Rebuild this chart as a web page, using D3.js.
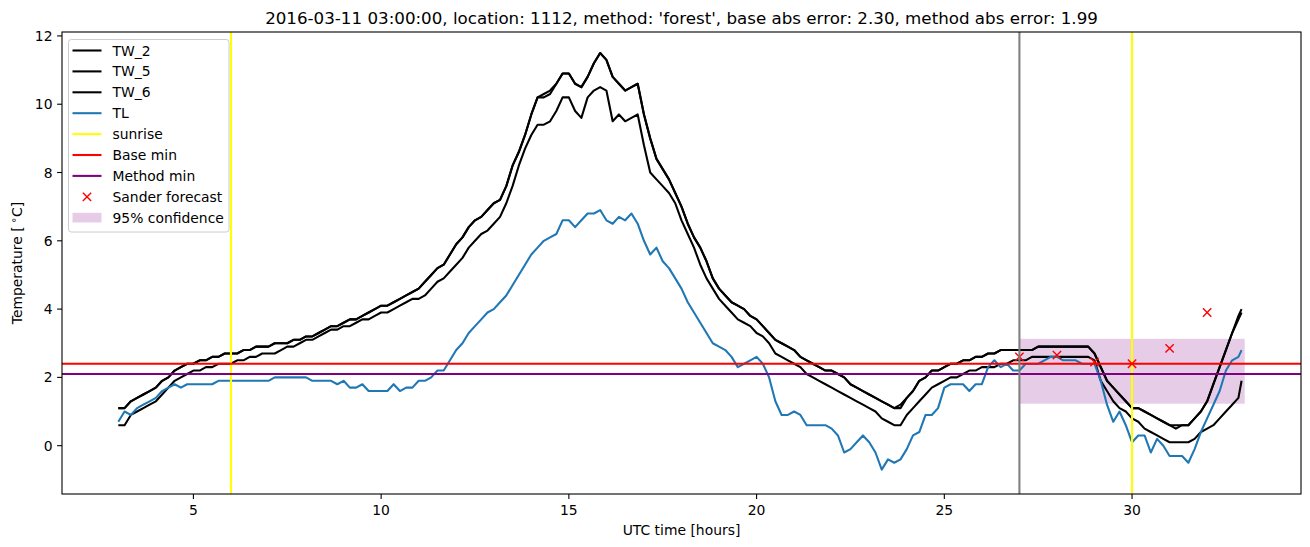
<!DOCTYPE html>
<html><head><meta charset="utf-8">
<script src="https://cdn.jsdelivr.net/npm/d3@7"></script>
<style>body{margin:0;background:#fff} text{font-family:"DejaVu Sans",sans-serif;fill:#000}</style>
</head><body>
<svg id="c" width="1310" height="547"></svg>
<script>
// ---------- data (10-minute samples starting 03:00 UTC, hours since 00:00 of day 1) ----------
const times = d3.range(180).map(i => 3 + i / 6).concat([32.917]);

const TW_2 = [
 1.1,1.1,1.3,1.4,1.5,1.6,  1.7,1.9,2.0,2.2,2.3,2.4,  2.4,2.5,2.5,2.6,2.6,2.7,
 2.7,2.7,2.8,2.8,2.9,2.9,  2.9,3.0,3.0,3.0,3.1,3.1,  3.2,3.2,3.3,3.4,3.5,3.5,
 3.6,3.7,3.7,3.8,3.9,4.0,  4.1,4.1,4.2,4.3,4.4,4.5,  4.6,4.8,5.0,5.2,5.3,5.6,
 5.9,6.1,6.4,6.6,6.7,6.9,  7.1,7.2,7.6,8.2,8.6,9.1,  9.7,10.2,10.3,10.4,10.6,10.9,
 10.9,10.6,10.5,10.8,11.2,11.5,  11.3,10.8,10.6,10.4,10.5,10.6,  9.7,9.0,8.4,8.1,7.8,7.4,
 7.0,6.5,6.1,5.8,5.4,4.9,  4.6,4.4,4.2,4.1,4.0,3.8,  3.7,3.5,3.3,3.1,3.0,2.9,
 2.8,2.6,2.5,2.4,2.3,2.2,  2.2,2.1,2.0,1.8,1.7,1.6,  1.5,1.4,1.3,1.2,1.1,1.2,
 1.4,1.6,1.9,2.0,2.2,2.2,  2.3,2.4,2.4,2.5,2.5,2.6,  2.6,2.7,2.7,2.8,2.8,2.8,
 2.8,2.8,2.8,2.9,2.9,2.9,  2.9,2.9,2.9,2.9,2.9,2.9,  2.7,2.3,1.9,1.7,1.5,1.3,
 1.1,1.1,1.0,0.9,0.8,0.7,  0.6,0.6,0.6,0.6,0.8,1.0,  1.3,1.8,2.3,2.8,3.3,3.8, 4.0];

const TW_5 = [
 1.1,1.1,1.3,1.4,1.5,1.6,  1.7,1.9,2.0,2.2,2.3,2.4,  2.4,2.5,2.5,2.6,2.6,2.7,
 2.7,2.7,2.8,2.8,2.9,2.9,  2.9,3.0,3.0,3.0,3.1,3.1,  3.2,3.2,3.3,3.4,3.5,3.5,
 3.6,3.7,3.7,3.8,3.9,4.0,  4.1,4.1,4.2,4.3,4.4,4.5,  4.6,4.8,5.0,5.2,5.3,5.6,
 5.9,6.1,6.4,6.6,6.7,6.9,  7.1,7.2,7.6,8.2,8.6,9.1,  9.7,10.2,10.2,10.3,10.6,10.9,
 10.9,10.6,10.5,10.8,11.2,11.5,  11.3,10.8,10.6,10.4,10.5,10.6,  9.7,9.0,8.4,8.1,7.8,7.4,
 7.0,6.5,6.1,5.8,5.4,4.9,  4.6,4.4,4.2,4.1,4.0,3.8,  3.7,3.5,3.3,3.1,3.0,2.9,
 2.8,2.6,2.5,2.4,2.3,2.2,  2.2,2.1,2.0,1.8,1.7,1.6,  1.5,1.4,1.3,1.2,1.1,1.1,
 1.4,1.6,1.9,2.0,2.2,2.2,  2.3,2.4,2.4,2.5,2.5,2.6,  2.6,2.7,2.7,2.8,2.8,2.8,
 2.8,2.8,2.8,2.9,2.9,2.9,  2.9,2.9,2.9,2.9,2.9,2.9,  2.7,2.3,1.9,1.7,1.5,1.3,
 1.1,1.1,1.0,0.9,0.8,0.7,  0.6,0.5,0.6,0.6,0.8,1.0,  1.3,1.8,2.3,2.8,3.3,3.7, 3.9];

const TW_6 = [
 0.6,0.6,0.9,1.0,1.1,1.2,  1.3,1.5,1.7,1.9,2.0,2.1,  2.2,2.2,2.3,2.3,2.4,2.4,
 2.4,2.5,2.5,2.6,2.6,2.7,  2.7,2.7,2.8,2.9,2.9,3.0,  3.1,3.1,3.2,3.3,3.4,3.4,
 3.5,3.5,3.6,3.7,3.7,3.8,  3.9,3.9,4.0,4.1,4.2,4.3,  4.3,4.4,4.6,4.8,4.9,5.1,
 5.3,5.5,5.8,6.0,6.2,6.3,  6.5,6.7,7.1,7.6,8.2,8.7,  9.1,9.4,9.4,9.5,9.8,10.2,
 10.2,9.8,9.6,10.2,10.4,10.5,  10.4,9.5,9.7,9.5,9.6,9.7,  8.8,8.0,7.8,7.6,7.4,7.1,
 6.6,6.2,5.8,5.3,4.9,4.6,  4.3,4.1,3.9,3.7,3.6,3.5,  3.3,3.2,3.0,2.7,2.6,2.5,
 2.4,2.3,2.1,2.0,1.9,1.8,  1.7,1.6,1.5,1.4,1.3,1.2,  1.1,1.0,0.8,0.7,0.6,0.6,
 0.9,1.1,1.3,1.5,1.7,1.8,  1.9,2.0,2.0,2.1,2.2,2.2,  2.3,2.3,2.3,2.4,2.4,2.5,
 2.5,2.5,2.6,2.6,2.6,2.6,  2.6,2.6,2.6,2.6,2.6,2.6,  2.5,1.9,1.6,1.3,1.1,1.0,
 0.8,0.7,0.5,0.4,0.3,0.2,  0.1,0.1,0.1,0.1,0.2,0.4,  0.5,0.6,0.8,1.0,1.2,1.4, 1.9];

const TL = [
 0.7,1.0,0.9,1.1,1.2,1.3,  1.4,1.6,1.7,1.8,1.7,1.8,  1.8,1.8,1.8,1.8,1.9,1.9,
 1.9,1.9,1.9,1.9,1.9,1.9,  1.9,2.0,2.0,2.0,2.0,2.0,  2.0,1.9,1.9,1.9,1.9,1.8,
 1.9,1.7,1.7,1.8,1.6,1.6,  1.6,1.6,1.8,1.6,1.7,1.7,  1.9,1.9,2.0,2.2,2.2,2.5,
 2.8,3.0,3.3,3.5,3.7,3.9,  4.0,4.2,4.4,4.7,5.0,5.3,  5.6,5.8,6.0,6.1,6.2,6.6,
 6.6,6.4,6.6,6.8,6.8,6.9,  6.6,6.5,6.7,6.6,6.8,6.5,  6.0,5.6,5.8,5.4,5.2,4.9,
 4.6,4.2,3.9,3.6,3.3,3.0,  2.9,2.8,2.6,2.3,2.4,2.5,  2.6,2.4,2.0,1.3,0.9,0.9,
 1.0,0.9,0.6,0.6,0.6,0.6,  0.5,0.3,-0.2,-0.1,0.1,0.3,  0.1,-0.2,-0.7,-0.4,-0.5,-0.4,
 -0.1,0.3,0.4,0.9,0.9,1.1,  1.7,1.8,1.8,1.8,1.6,1.8,  1.8,2.3,2.5,2.3,2.4,2.2,
 2.2,2.4,2.4,2.4,2.5,2.6,  2.6,2.5,2.5,2.5,2.4,2.4,  2.4,1.9,1.2,0.7,1.0,0.6,
 0.1,0.3,0.3,-0.2,0.2,0.0,  -0.3,-0.3,-0.3,-0.5,-0.1,0.4,  0.8,1.2,1.6,2.2,2.5,2.6, 2.8];

const sunrise = [6, 30];
const forecastStart = 27;
const baseMin = 2.4;
const methodMin = 2.1;
const sanderHours = [27, 28, 29, 30, 31, 32];
const sanderTemps = [2.6, 2.65, 2.45, 2.4, 2.85, 3.9];
const confHours = [27, 33];
const confRange = [1.23, 3.13];
const xTicks = [5, 10, 15, 20, 25, 30];
const yTicks = [0, 2, 4, 6, 8, 10, 12];
const title = "2016-03-11 03:00:00, location: 1112, method: 'forest', base abs error: 2.30, method abs error: 1.99";

// ---------- layout ----------
const svg = d3.select("#c");
const L = 62, T = 32, R = 1301, B = 494;
const x = d3.scaleLinear().domain([1.5, 34.5]).range([L, R]);
const y = d3.scaleLinear().domain([-1.415, 12.115]).range([B, T]);
const LW = 2.08;

svg.append("defs").append("clipPath").attr("id", "clip")
  .append("rect").attr("x", L).attr("y", T).attr("width", R - L).attr("height", B - T);
const g = svg.append("g").attr("clip-path", "url(#clip)");

// confidence band
g.append("rect")
  .attr("x", x(confHours[0])).attr("width", x(confHours[1]) - x(confHours[0]))
  .attr("y", y(confRange[1])).attr("height", y(confRange[0]) - y(confRange[1]))
  .attr("fill", "#800080").attr("fill-opacity", 0.2);

const line = vals => d3.line().x((d, i) => x(times[i])).y(d => y(d))(vals);
[[TW_2, "#000"], [TW_5, "#000"], [TW_6, "#000"], [TL, "#1f77b4"]].forEach(([v, c]) => {
  g.append("path").attr("d", line(v)).attr("fill", "none").attr("stroke", c)
    .attr("stroke-width", LW).attr("stroke-linejoin", "round").attr("stroke-linecap", "butt");
});

sunrise.forEach(h => g.append("line").attr("x1", x(h)).attr("x2", x(h)).attr("y1", T).attr("y2", B)
  .attr("stroke", "#ffff00").attr("stroke-width", LW));
[[baseMin, "#ff0000"], [methodMin, "#800080"]].forEach(([v, c]) =>
  g.append("line").attr("x1", L).attr("x2", R).attr("y1", y(v)).attr("y2", y(v))
    .attr("stroke", c).attr("stroke-width", LW));

const drawX = (sel, cx, cy) => {
  const s = 4.15;
  sel.append("path").attr("d", `M${cx - s},${cy - s}L${cx + s},${cy + s}M${cx - s},${cy + s}L${cx + s},${cy - s}`)
    .attr("stroke", "#ff0000").attr("stroke-width", 1.4).attr("fill", "none");
};
sanderHours.forEach((h, i) => drawX(g, x(h), y(sanderTemps[i])));

g.append("line").attr("x1", x(forecastStart)).attr("x2", x(forecastStart)).attr("y1", T).attr("y2", B)
  .attr("stroke", "#808080").attr("stroke-width", LW);

// ---------- axes ----------
const ax = svg.append("g");
ax.append("rect").attr("x", L).attr("y", T).attr("width", R - L).attr("height", B - T)
  .attr("fill", "none").attr("stroke", "#000").attr("stroke-width", 1.1);
xTicks.forEach(t => {
  ax.append("line").attr("x1", x(t)).attr("x2", x(t)).attr("y1", B).attr("y2", B + 4.9)
    .attr("stroke", "#000").attr("stroke-width", 1.1);
  ax.append("text").attr("x", x(t)).attr("y", 515).attr("text-anchor", "middle")
    .attr("font-size", "13.9px").text(t);
});
yTicks.forEach(t => {
  ax.append("line").attr("x1", L - 4.9).attr("x2", L).attr("y1", y(t)).attr("y2", y(t))
    .attr("stroke", "#000").attr("stroke-width", 1.1);
  ax.append("text").attr("x", 52.5).attr("y", y(t) + 5).attr("text-anchor", "end")
    .attr("font-size", "13.9px").text(t);
});
svg.append("text").attr("x", (L + R) / 2).attr("y", 535).attr("text-anchor", "middle")
  .attr("font-size", "13.9px").text("UTC time [hours]");
const yl = svg.append("text").attr("transform", `translate(22,${(T + B) / 2}) rotate(-90)`)
  .attr("text-anchor", "middle").attr("font-size", "13.9px");
yl.append("tspan").text("Temperature [");
yl.append("tspan").attr("dy", -5).attr("font-size", "10px").text(" \u2218");
yl.append("tspan").attr("dy", 5).text("C]");
svg.append("text").attr("x", (L + R) / 2).attr("y", 24).attr("text-anchor", "middle")
  .attr("font-size", "16.7px").text(title);

// ---------- legend ----------
const lg = svg.append("g");
lg.append("rect").attr("x", 68.5).attr("y", 39.5).attr("width", 160.5).attr("height", 192.5)
  .attr("rx", 2.8).attr("fill", "#fff").attr("fill-opacity", 0.8)
  .attr("stroke", "#cccccc").attr("stroke-width", 1);
const items = [
  ["TW_2", "line", "#000"], ["TW_5", "line", "#000"], ["TW_6", "line", "#000"],
  ["TL", "line", "#1f77b4"], ["sunrise", "line", "#ffff00"], ["Base min", "line", "#ff0000"],
  ["Method min", "line", "#800080"], ["Sander forecast", "marker", "#ff0000"],
  ["95% confidence", "patch", "#800080"]];
items.forEach(([name, kind, c], i) => {
  const cy = 50.5 + i * 20.9;
  if (kind === "line") lg.append("line").attr("x1", 72.5).attr("x2", 101.5).attr("y1", cy).attr("y2", cy)
    .attr("stroke", c).attr("stroke-width", LW);
  else if (kind === "marker") drawX(lg, 87, cy);
  else lg.append("rect").attr("x", 72.5).attr("y", cy - 4.9).attr("width", 29).attr("height", 9.7)
    .attr("fill", c).attr("fill-opacity", 0.2);
  lg.append("text").attr("x", 112.5).attr("y", cy + 5).attr("font-size", "13.9px").text(name);
});
</script>
</body></html>
